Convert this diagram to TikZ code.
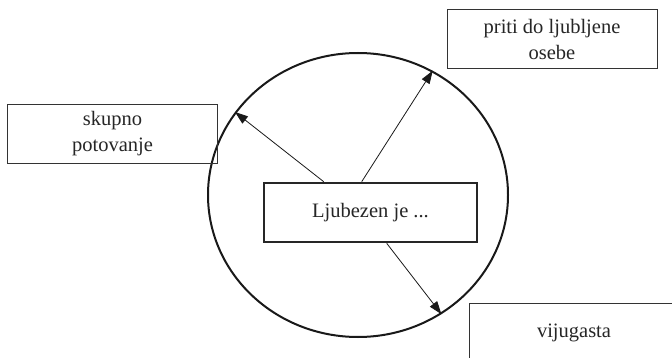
\documentclass[tikz,border=0pt]{standalone}
\usepackage{fontspec}
\setmainfont{Liberation Serif}
\usetikzlibrary{shapes.geometric,arrows.meta}
\begin{document}
\begin{tikzpicture}[x=1pt,y=-1pt,
  lbl/.style={draw=black!80, line width=0.9pt, minimum width=210pt, minimum height=59pt,
    inner sep=0pt, align=center, font=\fontsize{20.5}{26}\selectfont, text=black!85},
  centerbox/.style={draw=black!85, line width=2.6pt, minimum width=213pt, minimum height=59pt,
    inner sep=0pt, font=\fontsize{20.5}{26}\selectfont, text=black!85},
  ring/.style={draw=black!90, ellipse, line width=2pt, minimum width=300pt, minimum height=284pt, inner sep=0pt},
  arr/.style={line width=0.8pt, draw=black!90, -{Triangle[length=13pt,width=9pt]}}]
\useasboundingbox (0,0) rectangle (672,358);
\clip (0,0) rectangle (672,358);
\node[ring] (E) at (358,195) {};
\node[lbl] (tr) at (552,39) {priti do ljubljene\\osebe};
\node[lbl] (lf) at (112.5,134) {skupno\\potovanje};
\node[lbl] (br) at (574,333) {vijugasta};
\node[centerbox] (cb) at (370.5,212.5) {Ljubezen je ...};
\draw[arr] ([xshift=61pt]cb.north west) -- (E.146);
\draw[arr] ([xshift=99pt]cb.north west) -- (E.59.6);
\draw[arr] ([xshift=124pt]cb.south west) -- (E.-55);
\end{tikzpicture}
\end{document}
